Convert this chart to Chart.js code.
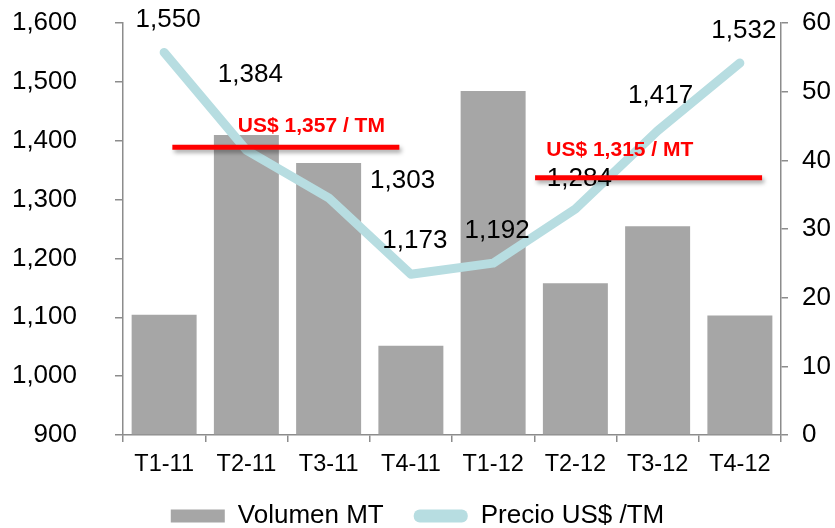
<!DOCTYPE html>
<html>
<head>
<meta charset="utf-8">
<script src="https://cdn.jsdelivr.net/npm/chart.js@4/dist/chart.umd.min.js"></script>
<style>
  html, body { margin: 0; padding: 0; background: #fff; }
  #wrap { width: 835px; height: 528px; }
</style>
</head>
<body>
<div id="wrap"><canvas id="grafica" width="835" height="528"></canvas></div>
<script>
// datos
const trimestres = ["T1-11", "T2-11", "T3-11", "T4-11", "T1-12", "T2-12", "T3-12", "T4-12"];
const volumen = [17.5, 43.7, 39.6, 13.0, 50.1, 22.1, 30.4, 17.4];
const precio = [1550, 1384, 1303, 1173, 1192, 1284, 1417, 1532];

// promedios anuales (linea roja)
const promedio2011 = [{ x: 0.1, y: 1389 }, { x: 2.86, y: 1389 }];
const promedio2012 = [{ x: 4.51, y: 1337 }, { x: 7.27, y: 1337 }];
const textoPromedios = ["US$ 1,357 / TM", "US$ 1,315 / MT"];

// ajuste manual de las etiquetas (px, como en el original)
const desplazEtiquetas = [[4, -33], [4, -75], [74, -17], [4, -33], [4, -32], [4, -30], [3, -35], [4, -32]];
const anclaPromedios = [{ x: 1.79, y: 1425 }, { x: 5.54, y: 1384 }];

const FUENTE = "'Liberation Sans', Arial, sans-serif";
const GRIS_EJE = "#8c8c8c";

Chart.defaults.font.family = FUENTE;
Chart.defaults.color = "#000";

const sombraRoja = {
  id: "sombraRoja",
  beforeDatasetDraw(chart, args) {
    if (!args.meta._dataset.sombra) return;
    const c = chart.ctx;
    c.save();
    c.shadowColor = "rgba(0,0,0,0.35)";
    c.shadowBlur = 4;
    c.shadowOffsetX = 2;
    c.shadowOffsetY = 3;
  },
  afterDatasetDraw(chart, args) {
    if (args.meta._dataset.sombra) chart.ctx.restore();
    if (args.index !== 1) return;
    // etiquetas de precio
    const c = chart.ctx;
    c.save();
    c.font = "26px " + FUENTE;
    c.fillStyle = "#000";
    c.textAlign = "center";
    c.textBaseline = "middle";
    args.meta.data.forEach((pt, i) => {
      const d = desplazEtiquetas[i];
      c.fillText(precio[i].toLocaleString("en-US"), pt.x + d[0], pt.y + d[1]);
    });
    c.restore();
  },
  afterDatasetsDraw(chart) {
    const c = chart.ctx;
    const xr = chart.scales.xr, y = chart.scales.y;
    c.save();
    c.font = "bold 21px " + FUENTE;
    c.fillStyle = "#ff0000";
    c.textAlign = "center";
    c.textBaseline = "middle";
    anclaPromedios.forEach((a, i) => {
      c.fillText(textoPromedios[i], xr.getPixelForValue(a.x), y.getPixelForValue(a.y));
    });
    c.restore();
  }
};

const ctx = document.getElementById("grafica").getContext("2d");

const grafica = new Chart(ctx, {
  data: {
    labels: trimestres,
    datasets: [
      {
        type: "bar",
        label: "Volumen MT",
        data: volumen,
        yAxisID: "y2",
        backgroundColor: "#a6a6a6",
        barPercentage: 0.79,
        categoryPercentage: 1,
        grouped: false,
        order: 3
      },
      {
        type: "line",
        label: "Precio US$ /TM",
        data: precio,
        yAxisID: "y",
        borderColor: "#b7dde1",
        backgroundColor: "#b7dde1",
        borderWidth: 9,
        borderCapStyle: "round",
        borderJoinStyle: "round",
        pointRadius: 0,
        tension: 0,
        order: 2
      },
      {
        type: "line",
        label: "prom2011",
        data: promedio2011,
        xAxisID: "xr",
        yAxisID: "y",
        borderColor: "#ff0000",
        borderWidth: 5,
        pointRadius: 0,
        sombra: true,
        order: 1
      },
      {
        type: "line",
        label: "prom2012",
        data: promedio2012,
        xAxisID: "xr",
        yAxisID: "y",
        borderColor: "#ff0000",
        borderWidth: 5,
        pointRadius: 0,
        sombra: true,
        order: 1
      }
    ]
  },
  options: {
    responsive: false,
    animation: false,
    layout: { padding: { top: 23, left: 0, right: 0, bottom: -11 } },
    plugins: {
      tooltip: { enabled: false },
      legend: {
        position: "bottom",
        labels: {
          font: { size: 26 },
          color: "#000",
          boxWidth: 54,
          boxHeight: 13,
          padding: 30,
          useBorderRadius: true,
          generateLabels(chart) {
            return chart.data.datasets.slice(0, 2).map((ds, i) => ({
              text: ds.label,
              fillStyle: ds.backgroundColor,
              strokeStyle: ds.backgroundColor,
              lineWidth: 0,
              borderRadius: i === 1 ? 6 : 0,
              datasetIndex: i,
              hidden: false
            }));
          }
        }
      }
    },
    scales: {
      x: {
        type: "category",
        offset: true,
        grid: { display: true, drawOnChartArea: false, offset: true, tickLength: 7, color: GRIS_EJE, lineWidth: 1.5 },
        border: { color: GRIS_EJE, width: 1.5 },
        ticks: { font: { size: 23.5 }, color: "#000", padding: 8, maxRotation: 0 },
        afterFit: s => { s.height = 38; }
      },
      xr: {
        type: "linear",
        display: false,
        min: -0.5,
        max: 7.5
      },
      y: {
        position: "left",
        min: 900,
        max: 1600,
        grid: { display: true, drawOnChartArea: false, tickLength: 8, color: GRIS_EJE, lineWidth: 1.5 },
        border: { color: GRIS_EJE, width: 1.5 },
        ticks: {
          stepSize: 100,
          font: { size: 26 },
          color: "#000",
          padding: 38,
          callback: v => v.toLocaleString("en-US")
        },
        afterFit: s => { s.width = 123; s.paddingTop = 0; s.paddingBottom = 0; }
      },
      y2: {
        position: "right",
        min: 0,
        max: 60,
        grid: { display: true, drawOnChartArea: false, tickLength: 7, color: GRIS_EJE, lineWidth: 1.5 },
        border: { color: GRIS_EJE, width: 1.5 },
        ticks: { stepSize: 10, font: { size: 26 }, color: "#000", padding: 14 },
        afterFit: s => { s.width = 54; s.paddingTop = 0; s.paddingBottom = 0; }
      }
    }
  },
  plugins: [sombraRoja]
});
</script>
</body>
</html>
